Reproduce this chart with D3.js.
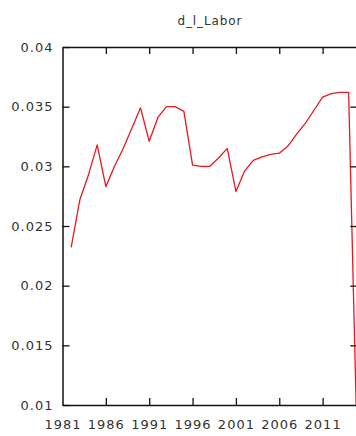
<!DOCTYPE html>
<html>
<head>
<meta charset="utf-8">
<script src="https://cdn.jsdelivr.net/npm/d3@7"></script>
<style>
  html, body { margin: 0; padding: 0; background: #fff; }
  svg { display: block; }
  text { font-family: "DejaVu Sans", Verdana, sans-serif; fill: #333; }
</style>
</head>
<body>
<svg id="chart" width="356" height="436"></svg>
<script>
// d_l_Labor, yearly values
const years = [1982, 1983, 1984, 1985, 1986, 1987, 1988, 1989, 1990, 1991,
               1992, 1993, 1994, 1995, 1996, 1997, 1998, 1999, 2000, 2001,
               2002, 2003, 2004, 2005, 2006, 2007, 2008, 2009, 2010, 2011,
               2012, 2013, 2014, 2015];
const labor = [0.0232, 0.0272, 0.0293, 0.0318, 0.0283, 0.0300, 0.0315, 0.0332, 0.0349, 0.0321,
               0.0341, 0.0350, 0.0350, 0.0346, 0.0301, 0.0300, 0.0300, 0.0307, 0.0315, 0.0279,
               0.0296, 0.0305, 0.0308, 0.0310, 0.0311, 0.0317, 0.0327, 0.0336, 0.0347, 0.0358,
               0.0361, 0.0362, 0.0362, 0.0060];
const xTicks = [1981, 1986, 1991, 1996, 2001, 2006, 2011];
const yTicks = [0.01, 0.015, 0.02, 0.025, 0.03, 0.035, 0.04];
const title = "d_l_Labor";

const svg = d3.select("#chart");
const plot = { left: 62.5, right: 357.3, top: 47, bottom: 405 };

const x = d3.scaleLinear().domain([1981, 2015]).range([plot.left, plot.right]);
const y = d3.scaleLinear().domain([0.01, 0.04]).range([plot.bottom, plot.top]);

svg.append("defs").append("clipPath").attr("id", "plotArea")
  .append("rect").attr("x", plot.left).attr("y", plot.top)
  .attr("width", plot.right - plot.left).attr("height", plot.bottom - plot.top);

// data line
const line = d3.line().x((d, i) => x(years[i])).y(d => y(d));
svg.append("path")
  .datum(labor)
  .attr("clip-path", "url(#plotArea)")
  .attr("fill", "none")
  .attr("stroke", "#e8181f")
  .attr("stroke-width", 1.3)
  .attr("stroke-linejoin", "round")
  .attr("d", line);

// axes with inward ticks on all four sides
const tickLen = 7;
const fmtY = d => String(+d.toFixed(3));

const gLeft = svg.append("g").attr("transform", `translate(${plot.left},0)`)
  .call(d3.axisLeft(y).tickValues(yTicks).tickFormat(fmtY).tickSizeInner(-tickLen).tickSizeOuter(0).tickPadding(9));
const gRight = svg.append("g").attr("transform", `translate(${plot.right},0)`)
  .call(d3.axisRight(y).tickValues(yTicks.slice(1, -1)).tickFormat("").tickSizeInner(-tickLen).tickSizeOuter(0));
const gBottom = svg.append("g").attr("transform", `translate(0,${plot.bottom})`)
  .call(d3.axisBottom(x).tickValues(xTicks).tickFormat(d3.format("d")).tickSizeInner(-tickLen).tickSizeOuter(0).tickPadding(14.5));
const gTop = svg.append("g").attr("transform", `translate(0,${plot.top})`)
  .call(d3.axisTop(x).tickValues(xTicks.slice(1)).tickFormat("").tickSizeInner(-tickLen).tickSizeOuter(0));

[gLeft, gRight, gBottom, gTop].forEach(g => {
  g.selectAll(".domain").attr("stroke", "#111").attr("stroke-width", 1.5);
  g.selectAll(".tick line").attr("stroke", "#111").attr("stroke-width", 1.3);
  g.selectAll(".tick text")
    .style("font-family", "'DejaVu Sans', Verdana, sans-serif")
    .style("font-size", "13px")
    .style("letter-spacing", "1px")
    .attr("fill", "#333");
});
gBottom.selectAll(".tick line").filter(d => d === 1981).remove();

// title
svg.append("text")
  .attr("x", (plot.left + plot.right) / 2)
  .attr("y", 25)
  .attr("text-anchor", "middle")
  .style("font-size", "12px")
  .style("letter-spacing", "0.9px")
  .text(title);
</script>
</body>
</html>
